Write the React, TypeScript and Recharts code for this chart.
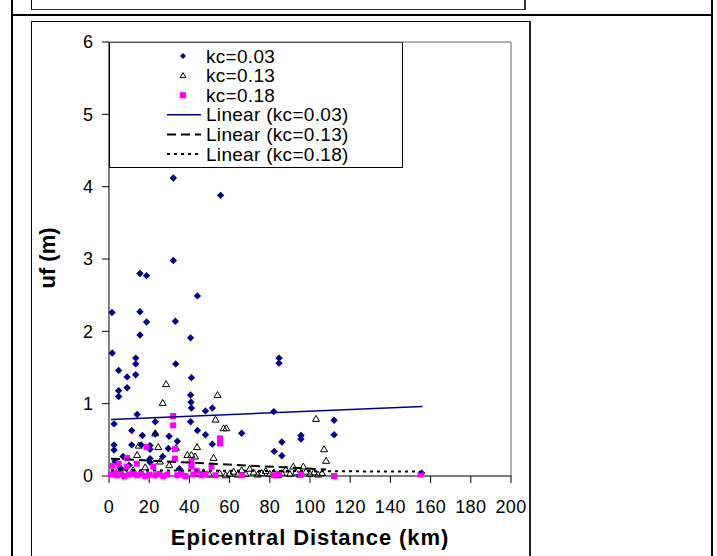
import React from "react"
import {Legend, ReferenceLine, Scatter, ScatterChart, XAxis, YAxis} from "recharts"

// uf (m) against epicentral distance (km)
const kc003: [number, number][] = [
    [1.5, 2.26], [1.6, 1.7], [2.5, 0.72], [2.5, 0.43], [2.5, 0.36], [3, 0.2], [4.8, 1.46], [4.8, 1.18],
    [4.8, 1.1], [6, 0.1], [7, 0.27], [9, 1.37], [9, 1.22], [10, 0.15], [11.3, 0.63], [11.3, 0.43],
    [13.3, 1.63], [13.3, 1.55], [13.3, 1.4], [14, 0.85], [15.4, 2.8], [15.4, 2.27], [15.4, 1.95],
    [16, 0.43], [16.6, 0.56], [18.7, 2.77], [18.7, 2.13], [20.4, 0.42], [20.4, 0.37], [20.4, 0.24],
    [20.4, 0.19], [23, 0.75], [23, 0.58], [26.7, 0.27], [29.5, 0.38], [29.9, 0.55], [32, 4.12],
    [32, 2.98], [33, 2.14], [33.2, 1.55], [34, 0.48], [35, 0.1], [40.6, 1.91], [41, 1.36], [40.6, 1.12],
    [40.8, 1.02], [41, 0.94], [40.6, 0.75], [44, 2.49], [44, 0.63], [48, 0.9], [48, 0.57], [51.4, 0.94],
    [51.4, 0.44], [55.5, 3.88], [66, 0.59], [82, 0.89], [84.6, 1.63], [84.6, 1.56], [86, 0.47],
    [82.2, 0.34], [86, 0.28], [95.5, 0.56], [95.5, 0.51], [112, 0.77], [112, 0.57], [155.6, 0.04],
]

const kc013: [number, number][] = [
    [28.4, 1.27], [26.7, 1.01], [54, 1.12], [53, 0.78], [57, 0.66], [58.4, 0.66], [23, 0.59], [24.5, 0.4],
    [14.8, 0.42], [43.8, 0.4], [52, 0.25], [39, 0.29], [41, 0.29], [42.8, 0.27], [14, 0.29], [25.4, 0.2],
    [33.3, 0.39], [103, 0.79], [107, 0.37], [108, 0.21], [91.7, 0.13], [96.7, 0.13],
    [5, 0.1], [8, 0.05], [12, 0.08], [18, 0.12], [30, 0.15], [36, 0.05], [45, 0.03], [47, 0.05],
    [50, 0.02], [55, 0.04], [58, 0.01], [60, 0.03], [62, 0.06], [64, 0.02], [66, 0.08], [68, 0.03],
    [70, 0.1], [72, 0.05], [74, 0.02], [76, 0.04], [78, 0.07], [80, 0.03], [82, 0.05], [84, 0.01],
    [86, 0.04], [88, 0.09], [90, 0.03], [93, 0.05], [95, 0.02], [98, 0.06], [100, 0.03], [102, 0.05],
    [104, 0.02], [106, 0.04],
]

const kc018: [number, number][] = [
    [31.9, 0.83], [31.9, 0.7], [55.2, 0.52], [55.2, 0.45], [18.7, 0.4], [32.8, 0.37], [9, 0.25],
    [32.8, 0.24], [13.8, 0.17], [22, 0.13], [41, 0.2], [41, 0.13], [1.5, 0.14], [4.8, 0.17], [8.8, 0.13],
    [51, 0.13], [43.6, 0.07], [1, 0.02], [2.5, 0.04], [4, 0.01], [6, 0.03], [7.5, 0], [10, 0.02],
    [12, 0.04], [14, 0.01], [16, 0.03], [18, 0], [20, 0.02], [23, 0.01], [25, 0.03], [27, 0], [29, 0.02],
    [34, 0.01], [36, 0.03], [38, 0], [42, 0.02], [46, 0.01], [48, 0.03], [53, 0.01], [66, 0.01],
    [82, 0.01], [84.6, 0.03], [95.5, 0.03], [112, 0], [155, 0.02],
]

// trend lines (end points)
const trend003: [number, number][] = [[1, 0.78], [156, 0.96]]
const trend013: [number, number][] = [[1, 0.24], [108, 0.09]]
const trend018: [number, number][] = [[1, 0.08], [156, 0.06]]

const xTicks = [0, 20, 40, 60, 80, 100, 120, 140, 160, 180, 200]
const yTicks = [0, 1, 2, 3, 4, 5, 6]

const legendLabels = ["kc=0.03", "kc=0.13", "kc=0.18", "Linear (kc=0.03)", "Linear (kc=0.13)", "Linear (kc=0.18)"]

const FONT = "Arial, 'Liberation Sans', Helvetica, sans-serif"
const NAVY = "#000080"
const MAGENTA = "#FF00FF"

const toPts = (arr: [number, number][]) => arr.map(([x, y]) => ({x, y}))

const Diamond = (p: any) => {
    const {cx, cy} = p
    if (cx == null || cy == null) return <g/>
    const r = 3.7
    return <polygon points={`${cx},${cy - r} ${cx + r},${cy} ${cx},${cy + r} ${cx - r},${cy}`} fill={NAVY}/>
}

const Triangle = (p: any) => {
    const {cx, cy} = p
    if (cx == null || cy == null) return <g/>
    return <polygon points={`${cx},${cy - 3.5} ${cx + 3.5},${cy + 2.5} ${cx - 3.5},${cy + 2.5}`}
                    fill="none" stroke="#000" strokeWidth={1}/>
}

const Square = (p: any) => {
    const {cx, cy} = p
    if (cx == null || cy == null) return <g/>
    return <rect x={cx - 3} y={cy - 3} width={6} height={6} fill={MAGENTA}/>
}

const NoDot = () => <g/>

function LegendBox() {
    const rowY = (i: number) => 14 + i * 19.6
    return (
        <svg width={294} height={126} style={{display: "block", background: "#fff"}}>
            <rect x={0.5} y={0.5} width={293} height={125} fill="#fff" stroke="#000"/>
            <line x1={0} y1={0.5} x2={294} y2={0.5} stroke="#555"/>
            <polygon points={`74,${rowY(0) - 3} 77,${rowY(0)} 74,${rowY(0) + 3} 71,${rowY(0)}`} fill={NAVY}/>
            <polygon points={`74,${rowY(1) - 3} 77,${rowY(1) + 2} 71,${rowY(1) + 2}`} fill="none" stroke="#000"/>
            <rect x={71} y={rowY(2) - 3} width={6} height={6} fill={MAGENTA}/>
            <line x1={58} y1={rowY(3)} x2={92} y2={rowY(3)} stroke={NAVY} strokeWidth={1.5}/>
            <line x1={58} y1={rowY(4)} x2={92} y2={rowY(4)} stroke="#000" strokeWidth={2} strokeDasharray="9 5"/>
            <line x1={58} y1={rowY(5)} x2={92} y2={rowY(5)} stroke="#000" strokeWidth={2} strokeDasharray="3 4"/>
            {legendLabels.map((t, i) => (
                <text key={t} x={97} y={rowY(i) + 6.5} fontSize={19} letterSpacing={0.3} fontFamily={FONT} fill="#000">{t}</text>
            ))}
        </svg>
    )
}

export default function App() {
    return (
        <div style={{position: "absolute", left: 0, top: 0, width: 717, height: 556, background: "#fff", overflow: "hidden", fontFamily: FONT}}>
            {/* table frame */}
            <div style={{position: "absolute", left: 11, top: 0, width: 2, height: 556, background: "#000"}}/>
            <div style={{position: "absolute", left: 711, top: 0, width: 2, height: 556, background: "#000"}}/>
            <div style={{position: "absolute", left: 11, top: 14, width: 702, height: 2, background: "#000"}}/>
            {/* cut-off box above */}
            <div style={{position: "absolute", left: 31, top: -10, width: 492, height: 19, borderLeft: "1px solid #000", borderRight: "2px solid #333", borderBottom: "1px solid #333"}}/>
            {/* chart box */}
            <div style={{position: "absolute", left: 31, top: 21, width: 497, height: 560, borderLeft: "1px solid #000", borderTop: "1px solid #000", borderRight: "2px solid #222"}}/>

            <div style={{position: "absolute", left: 0, top: 0}}>
                <ScatterChart width={717} height={556} margin={{top: 42, right: 206, bottom: 20, left: 49}}>
                    <XAxis type="number" dataKey="x" domain={[0, 200]} ticks={xTicks} interval={0} height={60}
                           axisLine={{stroke: "#000"}} tickLine={{stroke: "#000"}} tickSize={7} tickMargin={17}
                           tick={{fill: "#000", fontSize: 18, fontFamily: FONT, letterSpacing: 0.4}}/>
                    <YAxis type="number" dataKey="y" domain={[0, 6]} ticks={yTicks} interval={0} width={60}
                           axisLine={{stroke: "#000"}} tickLine={{stroke: "#000"}} tickSize={7} tickMargin={9}
                           tick={{fill: "#000", fontSize: 18, fontFamily: FONT}}/>
                    <ReferenceLine y={6} stroke="#999" strokeWidth={1.5}/>
                    <ReferenceLine x={200} stroke="#999" strokeWidth={1.5}/>
                    <Scatter name="kc=0.03" data={toPts(kc003)} shape={Diamond} isAnimationActive={false}/>
                    <Scatter name="kc=0.13" data={toPts(kc013)} shape={Triangle} isAnimationActive={false}/>
                    <Scatter name="kc=0.18" data={toPts(kc018)} shape={Square} isAnimationActive={false}/>
                    <Scatter name="Linear (kc=0.03)" data={toPts(trend003)} shape={NoDot} line={{stroke: NAVY, strokeWidth: 1.5}}
                             lineType="joint" isAnimationActive={false}/>
                    <Scatter name="Linear (kc=0.13)" data={toPts(trend013)} shape={NoDot}
                             line={{stroke: "#000", strokeWidth: 2, strokeDasharray: "9 5"}} lineType="joint" isAnimationActive={false}/>
                    <Scatter name="Linear (kc=0.18)" data={toPts(trend018)} shape={NoDot}
                             line={{stroke: "#000", strokeWidth: 2, strokeDasharray: "3 4"}} lineType="joint" isAnimationActive={false}/>
                    <Legend layout="vertical" align="center" verticalAlign="middle" content={() => <LegendBox/>}
                            wrapperStyle={{left: 109, top: 42, width: 294, height: 126, margin: 0}}/>
                </ScatterChart>
            </div>

            {/* axis titles */}
            <div style={{position: "absolute", left: 110, width: 400, top: 525, textAlign: "center", fontWeight: "bold", fontSize: 22, letterSpacing: 0.9, lineHeight: "26px"}}>
                Epicentral Distance (km)
            </div>
            <div style={{position: "absolute", left: 48 - 50, top: 258 - 13, width: 100, height: 26, textAlign: "center", fontWeight: "bold", fontSize: 22, lineHeight: "26px", transform: "rotate(-90deg)"}}>
                uf (m)
            </div>
        </div>
    )
}
